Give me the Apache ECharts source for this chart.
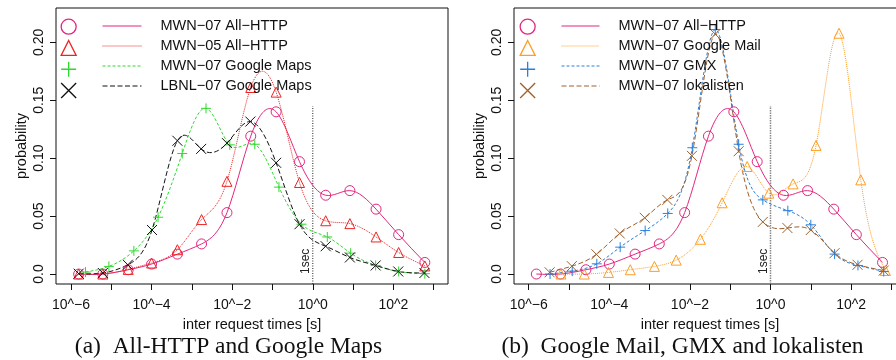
<!DOCTYPE html>
<html>
<head>
<meta charset="utf-8">
<script src="https://cdn.jsdelivr.net/npm/echarts@6/dist/echarts.min.js"></script>
<style>
html,body{margin:0;padding:0;background:#fff;}
#chart{width:896px;height:360px;}
</style>
</head>
<body>
<div id="chart"></div>
<script>
// ---- data (x = log10 of inter request time [s], y = probability) ----
const xTicks = [-6, -5, -4, -3, -2, -1, 0, 1, 2, 3];
const xLabelTicks = [-6, -4, -2, 0, 2];
const xLabelText = ['10^\u22126', '10^\u22124', '10^\u22122', '10^0', '10^2'];
const yTicks = [0, 0.05, 0.10, 0.15, 0.20];
const yLabelText = ['0.0', '0.05', '0.10', '0.15', '0.20'];

// panel (a)
const binsAllHttp = [-5.81, -5.21, -4.58, -4.0, -3.36, -2.76, -2.13, -1.54, -0.91, -0.33, 0.32, 0.92, 1.57, 2.13, 2.78];
const mwn07AllHttp = [0.0, 0.0, 0.0037, 0.0086, 0.0172, 0.026, 0.053, 0.119, 0.140, 0.097, 0.068, 0.072, 0.056, 0.034, 0.010];
const mwn05AllHttp = [0.0, 0.0, 0.004, 0.0095, 0.021, 0.047, 0.080, 0.161, 0.157, 0.079, 0.046, 0.0435, 0.032, 0.0186, 0.007];
const binsLbnlMaps = [-5.81, -5.21, -4.59, -3.99, -3.36, -2.77, -2.13, -1.55, -0.91, -0.33, 0.32, 0.92, 1.56, 2.12, 2.77];
const lbnl07Maps = [0.0003, 0.0009, 0.008, 0.038, 0.115, 0.108, 0.113, 0.1316, 0.096, 0.043, 0.024, 0.0143, 0.0074, 0.0022, 0.0009];
const binsMwnMaps = [-5.64, -5.06, -4.44, -3.84, -3.24, -2.65, -2.06, -1.44, -0.84, -0.28, 0.36, 0.94, 1.56, 2.13, 2.78];
const mwn07Maps = [0.0017, 0.0066, 0.020, 0.049, 0.104, 0.143, 0.1115, 0.112, 0.075, 0.043, 0.032, 0.018, 0.0074, 0.0022, 0.0003];

// panel (b)
const binsGmail = [-5.20, -4.62, -4.02, -3.48, -2.88, -2.34, -1.74, -1.20, -0.58, -0.04, 0.56, 1.13, 1.70, 2.24, 2.85];
const mwn07Gmail = [0.0, 0.0, 0.0014, 0.0037, 0.0066, 0.012, 0.030, 0.0615, 0.0928, 0.0698, 0.0778, 0.111, 0.2078, 0.0813, 0.0031];
const binsGmx = [-5.47, -4.92, -4.31, -3.73, -3.11, -2.55, -1.94, -1.37, -0.79, -0.19, 0.43, 1.0, 1.59, 2.17, 2.81];
const mwn07Gmx = [0.0, 0.0025, 0.0088, 0.0232, 0.0375, 0.0523, 0.109, 0.211, 0.112, 0.064, 0.0547, 0.0425, 0.0172, 0.0074, 0.0022];
const binsLokalisten = [-5.48, -4.93, -4.32, -3.74, -3.12, -2.56, -1.95, -1.37, -0.79, -0.19, 0.42, 1.0, 1.59, 2.16, 2.81];
const mwn07Lokalisten = [0.0015, 0.0068, 0.017, 0.035, 0.0485, 0.064, 0.102, 0.207, 0.106, 0.045, 0.0397, 0.038, 0.018, 0.008, 0.003];

// "1sec" reference line
const oneSecX = 0;
const oneSecTop = 0.145;

const names = {
  a1: 'MWN\u221207 All\u2212HTTP',
  a2: 'MWN\u221205 All\u2212HTTP',
  a3: 'MWN\u221207 Google Maps',
  a4: 'LBNL\u221207 Google Maps',
  b2: 'MWN\u221207 Google Mail',
  b3: 'MWN\u221207 GMX',
  b4: 'MWN\u221207 lokalisten'
};

// ---- styling ----
const C = {pink: '#E3267E', red: '#EE2424', green: '#2FDA2F', black: '#111111', orange: '#FF9E24', blue: '#2A80DC', brown: '#A0602C'};
const SYM = {
  circle: 'circle',
  tri: 'triangle',
  plus: 'path://M0,5L10,5M5,0L5,10',
  cross: 'path://M0,0L10,10M10,0L0,10'
};
const FONT = '"Liberation Sans", Arial, Helvetica, sans-serif';
const SERIF = '"Liberation Serif", "Times New Roman", Times, serif';
const Y_MIN = -0.0086, Y_MAX = 0.2296;
const DEC = 40.3;

function pairs(xs, ys) { return xs.map((x, i) => [x, ys[i]]); }

// slopes of a natural cubic spline through the points (used only to shape the connecting curve)
function splineSlopes(xs, ys) {
  const n = xs.length, h = [], M = new Array(n).fill(0);
  for (let i = 0; i < n - 1; i++) h.push(xs[i + 1] - xs[i]);
  if (n > 2) {
    const a = [], b = [], c = [], d = [];
    for (let i = 1; i < n - 1; i++) {
      a.push(h[i - 1]); b.push(2 * (h[i - 1] + h[i])); c.push(h[i]);
      d.push(6 * ((ys[i + 1] - ys[i]) / h[i] - (ys[i] - ys[i - 1]) / h[i - 1]));
    }
    const m = b.length;
    for (let i = 1; i < m; i++) {
      const w = a[i] / b[i - 1];
      b[i] -= w * c[i - 1]; d[i] -= w * d[i - 1];
    }
    const sol = new Array(m);
    sol[m - 1] = d[m - 1] / b[m - 1];
    for (let i = m - 2; i >= 0; i--) sol[i] = (d[i] - c[i] * sol[i + 1]) / b[i];
    for (let i = 0; i < m; i++) M[i + 1] = sol[i];
  }
  const s = [];
  for (let i = 0; i < n - 1; i++) s.push((ys[i + 1] - ys[i]) / h[i] - h[i] * (2 * M[i] + M[i + 1]) / 6);
  s.push((ys[n - 1] - ys[n - 2]) / h[n - 2] + h[n - 2] * (M[n - 2] + 2 * M[n - 1]) / 6);
  return s;
}

function curveSeries(xs, ys, color, dash, axis) {
  const slopes = splineSlopes(xs, ys);
  return {
    type: 'custom', coordinateSystem: 'cartesian2d', xAxisIndex: axis, yAxisIndex: axis,
    data: pairs(xs, ys), encode: {x: 0, y: 1}, silent: true, animation: false, z: 2, clip: true,
    renderItem: function (params, api) {
      if (params.dataIndex !== 0) return null;
      const p0 = api.coord([xs[0], ys[0]]);
      let d = 'M' + p0[0] + ',' + p0[1];
      for (let i = 0; i < xs.length - 1; i++) {
        const hh = xs[i + 1] - xs[i];
        const c1 = api.coord([xs[i] + hh / 3, ys[i] + slopes[i] * hh / 3]);
        const c2 = api.coord([xs[i + 1] - hh / 3, ys[i + 1] - slopes[i + 1] * hh / 3]);
        const p = api.coord([xs[i + 1], ys[i + 1]]);
        d += 'C' + c1[0] + ',' + c1[1] + ' ' + c2[0] + ',' + c2[1] + ' ' + p[0] + ',' + p[1];
      }
      return {type: 'path', shape: {pathData: d},
              style: {fill: 'none', stroke: color, lineWidth: 1, lineDash: dash === 'solid' ? null : dash}};
    }
  };
}

function markerSeries(name, xs, ys, color, sym, dash, axis) {
  return {
    type: 'line', name: name, xAxisIndex: axis, yAxisIndex: axis,
    data: pairs(xs, ys), smooth: false,
    symbol: sym, symbolSize: 10, showSymbol: true,
    lineStyle: {color: color, width: 1, type: dash, opacity: 0},
    itemStyle: {color: 'rgba(0,0,0,0)', borderColor: color, borderWidth: 1},
    emphasis: {disabled: true}, silent: true, animation: false, z: 3
  };
}

function oneSecSeries(axis, color, width, dash, textDx) {
  return {
    type: 'custom', coordinateSystem: 'cartesian2d', xAxisIndex: axis, yAxisIndex: axis,
    data: [[oneSecX, oneSecTop]], encode: {x: 0, y: 1}, silent: true, animation: false, z: 1, clip: false,
    renderItem: function (params, api) {
      const top = api.coord([oneSecX, oneSecTop]);
      const bot = api.coord([oneSecX, Y_MIN]);
      const base = api.coord([oneSecX, 0]);
      return {type: 'group', children: [
        {type: 'line', shape: {x1: bot[0], y1: bot[1], x2: top[0], y2: top[1]},
         style: {stroke: color, lineWidth: width, lineDash: dash}},
        {type: 'text', x: base[0] + textDx, y: base[1], rotation: Math.PI / 2,
         style: {text: '1sec', fill: '#222', font: '12px ' + FONT, align: 'left', verticalAlign: 'middle'}}
      ]};
    }
  };
}

function mkX(idx, min) {
  return {
    type: 'value', gridIndex: idx, min: min, max: min + 392 / DEC,
    name: 'inter request times [s]', nameLocation: 'middle', nameGap: 33,
    nameTextStyle: {fontSize: 14.5, fontFamily: FONT, color: '#111'},
    axisLine: {show: false, onZero: false},
    axisTick: {show: true, length: 6, inside: false, customValues: xTicks, lineStyle: {color: '#111', width: 1}},
    axisLabel: {customValues: xLabelTicks, margin: 14, fontSize: 14, fontFamily: FONT, color: '#111',
                formatter: v => xLabelText[xLabelTicks.indexOf(Math.round(v))]},
    splitLine: {show: false}
  };
}
function mkY(idx) {
  return {
    type: 'value', gridIndex: idx, min: Y_MIN, max: Y_MAX,
    name: 'probability', nameLocation: 'middle', nameGap: 27,
    nameTextStyle: {fontSize: 14.5, fontFamily: FONT, color: '#111'},
    axisLine: {show: false, onZero: false},
    axisTick: {show: true, length: 6, customValues: yTicks, lineStyle: {color: '#111', width: 1}},
    axisLabel: {customValues: yTicks, rotate: 90, margin: 9.5, fontSize: 14, fontFamily: FONT, color: '#111',
                formatter: v => yLabelText[yTicks.findIndex(t => Math.abs(t - v) < 1e-9)]},
    splitLine: {show: false}
  };
}

function symLegend(left, items) {
  return {
    show: true, orient: 'vertical', left: left, top: 18.5, padding: 0,
    itemWidth: 15, itemHeight: 15, itemGap: 5, selectedMode: false,
    itemStyle: {borderWidth: 1.3},
    textStyle: {fontSize: 14.5, lineHeight: 15},
    formatter: () => '',
    data: items
  };
}
function lineLegend(left, width, items) {
  return {
    show: true, orient: 'vertical', left: left, top: 18.5, padding: 0,
    itemWidth: width, itemHeight: 15, itemGap: 5, selectedMode: false,
    itemStyle: {color: 'rgba(0,0,0,0)', borderColor: 'rgba(0,0,0,0)', borderWidth: 0},
    lineStyle: {width: 1, opacity: 1},
    textStyle: {fontSize: 14.5, lineHeight: 15, fontFamily: FONT, color: '#111', padding: [0, 0, 0, 14]},
    data: items
  };
}

const chart = echarts.init(document.getElementById('chart'), null, {renderer: 'canvas'});
chart.setOption({
  animation: false,
  backgroundColor: '#fff',
  grid: [
    {left: 56, top: 8, width: 392, height: 276, outerBoundsMode: 'none', containLabel: false,
     show: true, borderColor: '#111', borderWidth: 1, backgroundColor: 'rgba(0,0,0,0)'},
    {left: 514, top: 8, width: 392, height: 276, outerBoundsMode: 'none', containLabel: false,
     show: true, borderColor: '#111', borderWidth: 1, backgroundColor: 'rgba(0,0,0,0)'}
  ],
  xAxis: [mkX(0, -6 - 15 / DEC), mkX(1, -6 - 14.7 / DEC)],
  yAxis: [mkY(0), mkY(1)],
  legend: [
    symLegend(60.5, [
      {name: names.a1, icon: SYM.circle}, {name: names.a2, icon: SYM.tri},
      {name: names.a3, icon: SYM.plus}, {name: names.a4, icon: SYM.cross}]),
    lineLegend(102, 39, [names.a1, names.a2, names.a3, names.a4]),
    symLegend(519.5, [
      {name: names.a1, icon: SYM.circle}, {name: names.b2, icon: SYM.tri},
      {name: names.b3, icon: SYM.plus}, {name: names.b4, icon: SYM.cross}]),
    lineLegend(561, 38, [names.a1, names.b2, names.b3, names.b4])
  ],
  series: [
    oneSecSeries(0, '#222', 1, [1, 1.5], -7),
    oneSecSeries(1, '#888', 1.5, [1.5, 1], -6.5),
    curveSeries(binsAllHttp, mwn07AllHttp, C.pink, 'solid', 0),
    curveSeries(binsAllHttp, mwn05AllHttp, C.red, [1, 1], 0),
    curveSeries(binsMwnMaps, mwn07Maps, C.green, [3, 2], 0),
    curveSeries(binsLbnlMaps, lbnl07Maps, C.black, [5, 2.5], 0),
    curveSeries(binsAllHttp, mwn07AllHttp, C.pink, 'solid', 1),
    curveSeries(binsGmail, mwn07Gmail, C.orange, [1, 1], 1),
    curveSeries(binsGmx, mwn07Gmx, C.blue, [3, 2], 1),
    curveSeries(binsLokalisten, mwn07Lokalisten, C.brown, [5, 2.5], 1),
    markerSeries(names.a1, binsAllHttp, mwn07AllHttp, C.pink, SYM.circle, 'solid', 0),
    markerSeries(names.a2, binsAllHttp, mwn05AllHttp, C.red, SYM.tri, [1, 1], 0),
    markerSeries(names.a3, binsMwnMaps, mwn07Maps, C.green, SYM.plus, [3, 2], 0),
    markerSeries(names.a4, binsLbnlMaps, lbnl07Maps, C.black, SYM.cross, [5, 2.5], 0),
    markerSeries(names.a1, binsAllHttp, mwn07AllHttp, C.pink, SYM.circle, 'solid', 1),
    markerSeries(names.b2, binsGmail, mwn07Gmail, C.orange, SYM.tri, [1, 1], 1),
    markerSeries(names.b3, binsGmx, mwn07Gmx, C.blue, SYM.plus, [3, 2], 1),
    markerSeries(names.b4, binsLokalisten, mwn07Lokalisten, C.brown, SYM.cross, [5, 2.5], 1)
  ],
  graphic: [
    {type: 'text', x: 228.5, y: 346.5, silent: true,
     style: {text: '(a)\u2002All-HTTP and Google Maps', font: '23.5px ' + SERIF, fill: '#111', align: 'center', verticalAlign: 'middle'}},
    {type: 'text', x: 682.5, y: 346.5, silent: true,
     style: {text: '(b)\u2002Google Mail, GMX and lokalisten', font: '23.5px ' + SERIF, fill: '#111', align: 'center', verticalAlign: 'middle'}}
  ]
});
</script>
</body>
</html>
